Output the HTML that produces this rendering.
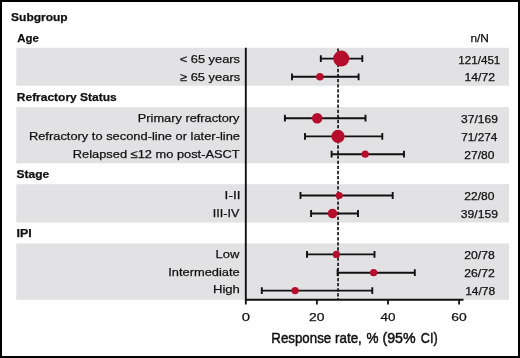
<!DOCTYPE html>
<html lang="en"><head><meta charset="utf-8"><title>Response rate by subgroup</title>
<style>html,body{margin:0;padding:0;background:#fff}svg{display:block}text{font-family:"Liberation Sans",Arial,Helvetica,sans-serif;fill:#111111;stroke:#111;stroke-width:0.25}.b{font-weight:bold}.t{stroke-width:0.5}</style></head><body>
<svg width="520" height="358" viewBox="0 0 520 358">
<rect x="0" y="0" width="520" height="358" fill="#fff"/>
<rect x="16.3" y="47.8" width="492.7" height="37.9" fill="#e2e2e4"/>
<rect x="16.3" y="107.1" width="492.7" height="56.2" fill="#e2e2e4"/>
<rect x="16.3" y="184.2" width="492.7" height="38.3" fill="#e2e2e4"/>
<rect x="16.3" y="243.4" width="492.7" height="56.4" fill="#e2e2e4"/>
<line x1="338.05" y1="48.45" x2="338.05" y2="299.8" stroke="#111111" stroke-width="1.65" stroke-dasharray="3.3 1.8"/>
<path d="M245.8 47.8V299.8H463.5" fill="none" stroke="#111111" stroke-width="1.9" stroke-linejoin="miter"/>
<line x1="245.8" y1="299.8" x2="245.8" y2="304.5" stroke="#111111" stroke-width="1.8"/>
<line x1="316.9" y1="299.8" x2="316.9" y2="304.5" stroke="#111111" stroke-width="1.8"/>
<line x1="388.0" y1="299.8" x2="388.0" y2="304.5" stroke="#111111" stroke-width="1.8"/>
<line x1="459.1" y1="299.8" x2="459.1" y2="304.5" stroke="#111111" stroke-width="1.8"/>
<path d="M320.8 58.6H362.3M320.8 55.2v6.8M362.3 55.2v6.8" fill="none" stroke="#111111" stroke-width="1.9"/>
<circle cx="341.2" cy="58.6" r="8.0" fill="#b70d2d"/>
<path d="M292.0 76.8H358.6M292.0 73.4v6.8M358.6 73.4v6.8" fill="none" stroke="#111111" stroke-width="1.9"/>
<circle cx="319.9" cy="76.8" r="3.8" fill="#b70d2d"/>
<path d="M284.9 118.2H365.5M284.9 114.8v6.8M365.5 114.8v6.8" fill="none" stroke="#111111" stroke-width="1.9"/>
<circle cx="317.2" cy="118.2" r="5.3" fill="#b70d2d"/>
<path d="M305.0 136.4H382.3M305.0 133.0v6.8M382.3 133.0v6.8" fill="none" stroke="#111111" stroke-width="1.9"/>
<circle cx="338.0" cy="136.4" r="6.6" fill="#b70d2d"/>
<path d="M331.6 154.2H404.0M331.6 150.8v6.8M404.0 150.8v6.8" fill="none" stroke="#111111" stroke-width="1.9"/>
<circle cx="365.2" cy="154.2" r="3.6" fill="#b70d2d"/>
<path d="M300.5 195.5H392.7M300.5 192.1v6.8M392.7 192.1v6.8" fill="none" stroke="#111111" stroke-width="1.9"/>
<circle cx="339.2" cy="195.5" r="3.6" fill="#b70d2d"/>
<path d="M311.1 213.5H358.0M311.1 210.1v6.8M358.0 210.1v6.8" fill="none" stroke="#111111" stroke-width="1.9"/>
<circle cx="332.5" cy="213.5" r="4.8" fill="#b70d2d"/>
<path d="M307.0 254.4H374.5M307.0 251.0v6.8M374.5 251.0v6.8" fill="none" stroke="#111111" stroke-width="1.9"/>
<circle cx="336.4" cy="254.4" r="3.6" fill="#b70d2d"/>
<path d="M337.6 272.7H414.8M337.6 269.3v6.8M414.8 269.3v6.8" fill="none" stroke="#111111" stroke-width="1.9"/>
<circle cx="373.6" cy="272.7" r="3.6" fill="#b70d2d"/>
<path d="M261.8 290.6H372.3M261.8 287.2v6.8M372.3 287.2v6.8" fill="none" stroke="#111111" stroke-width="1.9"/>
<circle cx="295.1" cy="290.6" r="3.7" fill="#b70d2d"/>
<g style="filter:grayscale(1)">
<text x="179.70" y="63.0" font-size="11.4" textLength="60.35" lengthAdjust="spacingAndGlyphs">&lt; 65 years</text>
<text x="179.98" y="80.8" font-size="11.4" textLength="60.17" lengthAdjust="spacingAndGlyphs">≥ 65 years</text>
<text x="137.82" y="121.7" font-size="11.4" textLength="101.60" lengthAdjust="spacingAndGlyphs">Primary refractory</text>
<text x="28.91" y="139.7" font-size="11.4" textLength="211.07" lengthAdjust="spacingAndGlyphs">Refractory to second-line or later-line</text>
<text x="72.81" y="157.5" font-size="11.4" textLength="166.86" lengthAdjust="spacingAndGlyphs">Relapsed ≤12 mo post-ASCT</text>
<text x="224.61" y="198.8" font-size="11.4" textLength="15.84" lengthAdjust="spacingAndGlyphs">I-II</text>
<text x="212.80" y="216.9" font-size="11.4" textLength="26.57" lengthAdjust="spacingAndGlyphs">III-IV</text>
<text x="215.60" y="257.8" font-size="11.4" textLength="23.83" lengthAdjust="spacingAndGlyphs">Low</text>
<text x="168.17" y="276.0" font-size="11.4" textLength="71.58" lengthAdjust="spacingAndGlyphs">Intermediate</text>
<text x="213.00" y="293.3" font-size="11.4" textLength="26.89" lengthAdjust="spacingAndGlyphs">High</text>
<text x="458.38" y="63.5" font-size="10.6" textLength="41.92" lengthAdjust="spacingAndGlyphs">121/451</text>
<text x="464.54" y="81.2" font-size="10.6" textLength="30.45" lengthAdjust="spacingAndGlyphs">14/72</text>
<text x="461.07" y="122.6" font-size="10.6" textLength="36.93" lengthAdjust="spacingAndGlyphs">37/169</text>
<text x="461.24" y="140.7" font-size="10.6" textLength="36.07" lengthAdjust="spacingAndGlyphs">71/274</text>
<text x="464.33" y="158.7" font-size="10.6" textLength="30.11" lengthAdjust="spacingAndGlyphs">27/80</text>
<text x="464.33" y="199.8" font-size="10.6" textLength="30.11" lengthAdjust="spacingAndGlyphs">22/80</text>
<text x="460.87" y="218.1" font-size="10.6" textLength="37.14" lengthAdjust="spacingAndGlyphs">39/159</text>
<text x="464.33" y="258.8" font-size="10.6" textLength="30.47" lengthAdjust="spacingAndGlyphs">20/78</text>
<text x="464.33" y="276.9" font-size="10.6" textLength="30.47" lengthAdjust="spacingAndGlyphs">26/72</text>
<text x="465.15" y="295.0" font-size="10.6" textLength="30.03" lengthAdjust="spacingAndGlyphs">14/78</text>
<text class="b" x="11.11" y="21.2" font-size="11.5" textLength="56.53" lengthAdjust="spacingAndGlyphs">Subgroup</text>
<text class="b" x="17.25" y="41.5" font-size="11.5" textLength="21.61" lengthAdjust="spacingAndGlyphs">Age</text>
<text class="b" x="16.82" y="101.2" font-size="11.5" textLength="99.90" lengthAdjust="spacingAndGlyphs">Refractory Status</text>
<text class="b" x="16.61" y="178.1" font-size="11.5" textLength="32.66" lengthAdjust="spacingAndGlyphs">Stage</text>
<text class="b" x="16.49" y="237.2" font-size="11.5" textLength="15.19" lengthAdjust="spacingAndGlyphs">IPI</text>
<text x="470.42" y="42.4" font-size="11.4" textLength="18.51" lengthAdjust="spacingAndGlyphs">n/N</text>
<text x="241.66" y="320.9" font-size="11.7" textLength="8.29" lengthAdjust="spacingAndGlyphs">0</text>
<text x="309.06" y="320.9" font-size="11.7" textLength="15.45" lengthAdjust="spacingAndGlyphs">20</text>
<text x="380.61" y="320.9" font-size="11.7" textLength="14.98" lengthAdjust="spacingAndGlyphs">40</text>
<text x="451.26" y="320.9" font-size="11.7" textLength="15.45" lengthAdjust="spacingAndGlyphs">60</text>
<text class="t" x="271.33" y="342.9" font-size="15.5" textLength="59.85" lengthAdjust="spacingAndGlyphs">Response</text>
<text class="t" x="335.04" y="342.9" font-size="15.5" textLength="26.76" lengthAdjust="spacingAndGlyphs">rate,</text>
<text class="t" x="366.56" y="342.9" font-size="15.5" textLength="12.01" lengthAdjust="spacingAndGlyphs">%</text>
<text class="t" x="382.48" y="342.9" font-size="15.5" textLength="33.13" lengthAdjust="spacingAndGlyphs">(95%</text>
<text class="t" x="420.79" y="342.9" font-size="15.5" textLength="16.86" lengthAdjust="spacingAndGlyphs">CI)</text>
</g>
<path d="M0 0H520V358H0Z M2 2V356H518V2Z" fill="#000" fill-rule="evenodd"/>
</svg></body></html>
